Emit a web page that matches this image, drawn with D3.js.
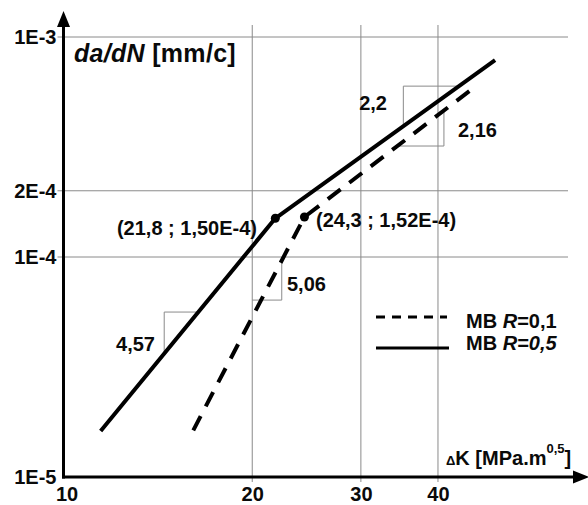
<!DOCTYPE html>
<html>
<head>
<meta charset="utf-8">
<script src="https://cdn.jsdelivr.net/npm/d3@7"></script>
<style>
  html, body { margin: 0; padding: 0; background: #fff; }
  svg { display: block; }
  svg text { font-family: "Liberation Sans", Arial, sans-serif; font-weight: bold; }
</style>
</head>
<body>
<svg id="chart" width="588" height="505"></svg>
<script>
// Axis ticks
const xTicks = [10, 20, 30, 40];
const xGrid = [20, 30, 40];
const yTicks = [1e-5, 1e-4, 2e-4, 1e-3];
const yTickLabels = ["1E-5", "1E-4", "2E-4", "1E-3"];
const yGrid = [1e-4, 2e-4, 1e-3];

// Crack growth rate curves: [ΔK (MPa·m^0.5), da/dN (mm/cycle)]
const curveR01 = [[16.05, 1.63e-5], [24.3, 1.52e-4], [45.6, 5.85e-4]];
const curveR05 = [[11.36, 1.62e-5], [21.8, 1.50e-4], [49.5, 7.85e-4]];

// Transition points between the two Paris regimes
const transitionK = [21.8, 24.3];
const transitionV = [1.50e-4, 1.52e-4];
const transitionLabels = ["(21,8 ; 1,50E-4)", "(24,3 ; 1,52E-4)"];

// Paris exponents
const slopeLabels = ["4,57", "5,06", "2,2", "2,16"];

const svg = d3.select("#chart");
const x = d3.scaleLog().domain([10, 100]).range([66.5, 683.5]);
const y = d3.scaleLog().domain([1e-5, 1e-3]).range([477, 37]);
const axisX = 63.5, axisY = 477;
const gridColor = "#8a8a8a";
const ink = "#0a0a0a";

// Log-space interpolation along a polyline
function vAt(curve, k) {
  for (let i = 0; i < curve.length - 1; i++) {
    const [k0, v0] = curve[i], [k1, v1] = curve[i + 1];
    if (k >= k0 && k <= k1) {
      const t = (Math.log(k) - Math.log(k0)) / (Math.log(k1) - Math.log(k0));
      return Math.exp(Math.log(v0) + t * (Math.log(v1) - Math.log(v0)));
    }
  }
  return null;
}
function kAt(curve, v) {
  for (let i = 0; i < curve.length - 1; i++) {
    const [k0, v0] = curve[i], [k1, v1] = curve[i + 1];
    if (v >= v0 && v <= v1) {
      const t = (Math.log(v) - Math.log(v0)) / (Math.log(v1) - Math.log(v0));
      return Math.exp(Math.log(k0) + t * (Math.log(k1) - Math.log(k0)));
    }
  }
  return null;
}

// Grid
svg.append("g").selectAll("line").data(yGrid).join("line")
  .attr("x1", axisX - 6).attr("x2", 568)
  .attr("y1", d => y(d)).attr("y2", d => y(d))
  .attr("stroke", gridColor).attr("stroke-width", 1);
svg.append("g").selectAll("line").data(xGrid).join("line")
  .attr("x1", d => x(d)).attr("x2", d => x(d))
  .attr("y1", 25).attr("y2", axisY + 5)
  .attr("stroke", gridColor).attr("stroke-width", 1);

// Tick labels through d3 axes
const gx = svg.append("g").attr("transform", `translate(0,${axisY})`)
  .call(d3.axisBottom(x).tickValues(xTicks).tickFormat(d3.format("d")).tickSize(0).tickPadding(10));
gx.attr("font-family", null).attr("font-size", null);
gx.select(".domain").remove();
gx.selectAll("text").attr("font-size", 20).attr("fill", ink);

const gy = svg.append("g").attr("transform", `translate(${axisX},0)`)
  .call(d3.axisLeft(y).tickValues(yTicks).tickFormat((d, i) => yTickLabels[i]).tickSize(0).tickPadding(7));
gy.attr("font-family", null).attr("font-size", null);
gy.select(".domain").remove();
gy.selectAll("text").attr("font-size", 20).attr("fill", ink);

// Slope triangles
const tri = svg.append("g").attr("stroke", gridColor).attr("stroke-width", 1).attr("fill", "none");
function legs(cornerK, cornerV, hK, vV) {
  tri.append("line").attr("x1", x(cornerK)).attr("x2", x(hK)).attr("y1", y(cornerV)).attr("y2", y(cornerV));
  tri.append("line").attr("x1", x(cornerK)).attr("x2", x(cornerK)).attr("y1", y(cornerV)).attr("y2", y(vV));
}
legs(14.4, 5.62e-5, kAt(curveR05, 5.62e-5), vAt(curveR05, 14.4));
legs(22.33, 6.37e-5, 20, 1e-4);
legs(35.15, 5.98e-4, kAt(curveR05, 5.98e-4), vAt(curveR05, 35.15));
legs(40.9, 3.195e-4, kAt(curveR01, 3.195e-4), vAt(curveR01, 40.9));

// Axes with arrows
svg.append("line").attr("x1", axisX).attr("x2", axisX).attr("y1", axisY + 1.5).attr("y2", 24)
  .attr("stroke", "#000").attr("stroke-width", 3);
svg.append("path").attr("d", `M${axisX},11 L${axisX - 6.5},27 L${axisX + 6.5},27 Z`).attr("fill", "#000");
svg.append("line").attr("x1", axisX - 1.5).attr("x2", 576).attr("y1", axisY).attr("y2", axisY)
  .attr("stroke", "#000").attr("stroke-width", 3);
svg.append("path").attr("d", `M589,${axisY} L573,${axisY - 6.5} L573,${axisY + 6.5} Z`).attr("fill", "#000");

// Curves
const line = d3.line().x(d => x(d[0])).y(d => y(d[1]));
svg.append("path").datum(curveR05).attr("d", line)
  .attr("fill", "none").attr("stroke", "#000").attr("stroke-width", 4).attr("stroke-linejoin", "round");
svg.append("path").datum(curveR01).attr("d", line)
  .attr("fill", "none").attr("stroke", "#000").attr("stroke-width", 4)
  .attr("stroke-dasharray", "16,11");

// Transition points
svg.append("g").selectAll("circle").data(transitionK).join("circle")
  .attr("cx", d => x(d)).attr("cy", (d, i) => y(transitionV[i])).attr("r", 4.5).attr("fill", "#000");

const text = (tx, ty, s, size) => svg.append("text").attr("x", tx).attr("y", ty)
  .attr("font-size", size || 20).attr("fill", ink).text(s);

text(257, 235, transitionLabels[0]).attr("text-anchor", "end");
text(316, 227, transitionLabels[1]);

// Slope labels
text(155, 351, slopeLabels[0]).attr("text-anchor", "end");
text(287, 291, slopeLabels[1]);
text(387, 110, slopeLabels[2]).attr("text-anchor", "end");
text(458, 137, slopeLabels[3]);

// Axis titles
const yTitle = svg.append("text").attr("x", 74).attr("y", 62).attr("font-size", 25)
  .attr("letter-spacing", 0.3).attr("fill", ink);
yTitle.append("tspan").attr("font-style", "italic").text("da/dN");
yTitle.append("tspan").text(" [mm/c]");

const xTitle = svg.append("text").attr("x", 446).attr("y", 465).attr("fill", ink);
xTitle.append("tspan").attr("font-size", 13).text("Δ");
xTitle.append("tspan").attr("font-size", 20).text("K [MPa.m");
xTitle.append("tspan").attr("font-size", 13).attr("dy", -12).text("0,5");
xTitle.append("tspan").attr("font-size", 20).attr("dy", 12).text("]");

// Legend
svg.append("line").attr("x1", 376).attr("x2", 447).attr("y1", 317).attr("y2", 317)
  .attr("stroke", "#000").attr("stroke-width", 3).attr("stroke-dasharray", "9,7");
svg.append("line").attr("x1", 376).attr("x2", 449).attr("y1", 348).attr("y2", 348)
  .attr("stroke", "#000").attr("stroke-width", 3);
const l1 = text(466, 328, "");
l1.append("tspan").text("MB ");
l1.append("tspan").attr("font-style", "italic").text("R");
l1.append("tspan").text("=0,1");
const l2 = text(466, 350, "");
l2.append("tspan").text("MB ");
l2.append("tspan").attr("font-style", "italic").text("R=0,5");
</script>
</body>
</html>
